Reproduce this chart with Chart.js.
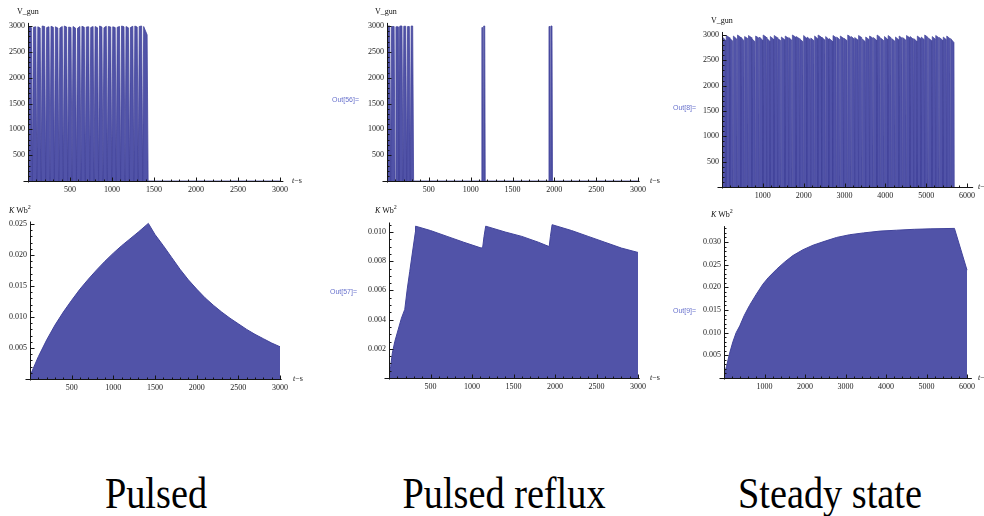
<!DOCTYPE html>
<html>
<head>
<meta charset="utf-8">
<script src="https://cdn.jsdelivr.net/npm/chart.js@4"></script>
<style>
  html, body { margin:0; padding:0; background:#fff; }
  body { position:relative; width:984px; height:516px; overflow:hidden; }
  .lbl { position:absolute; font-family:"Liberation Serif", serif; font-size:8px; line-height:8px; color:#111; white-space:nowrap; }
  .lbl sup { font-size:6px; vertical-align:4px; line-height:0; }
  .out { position:absolute; font-family:"Liberation Sans", sans-serif; font-size:7px; line-height:7px; color:rgb(105,115,205); white-space:nowrap; }
  .cap { position:absolute; width:400px; text-align:center; font-family:"Liberation Serif", serif; font-size:44px; line-height:44px; color:#000; transform:scaleX(0.87); transform-origin:center; white-space:nowrap; }
</style>
</head>
<body>
<script>
// ---------------- DATA ----------------
// Tick labels
const vTicks = [500, 1000, 1500, 2000, 2500, 3000];
const t3000Ticks = [500, 1000, 1500, 2000, 2500, 3000];
const t6000Ticks = [1000, 2000, 3000, 4000, 5000, 6000];
const pulsedKTicks = [0.005, 0.010, 0.015, 0.020, 0.025];
const refluxKTicks = [0.002, 0.004, 0.006, 0.008, 0.010];
const steadyKTicks = [0.005, 0.010, 0.015, 0.020, 0.025, 0.030];

// Pulsed: V_gun tooth boundaries (s) and tooth plateau values (V)
const pulsedTroughs = [0, 52, 105, 157, 210, 262, 314, 367, 420, 472, 524, 577, 630, 682, 735, 787, 840, 892, 944, 997, 1050, 1102, 1155, 1207, 1260, 1312, 1365, 1430];
const pulsedPeakStart = [2990, 2975, 2985, 3000, 2970, 2995, 2985, 2960, 3000, 2980, 2990, 2955, 2995, 2980, 2970, 2990, 3000, 2965, 2990, 2985, 2975, 3000, 2990, 2970, 3000, 2990, 2990];
const pulsedPeakEnd   = [2970, 2985, 2960, 2990, 2985, 2975, 2960, 2990, 2980, 2970, 2960, 2990, 2975, 2985, 2990, 2965, 2980, 2995, 2980, 2970, 2990, 2985, 2965, 2995, 2980, 3000, 2830];

// Pulsed reflux: three bursts
const refluxBurst1 = [0, 44, 96, 143, 190, 235, 278, 318];
const refluxPeaks1 = [3000, 2990, 2985, 3000, 2995, 2990, 3000];
const refluxBurst2 = [1128, 1150, 1174];
const refluxPeaks2 = [2970, 3000];
const refluxBurst3 = [1930, 1953, 1978];
const refluxPeaks3 = [2990, 3000];

// Steady state
const steadyTroughs = [0, 95, 190, 270, 370, 460, 545, 640, 730, 815,
  910, 1000, 1090, 1175, 1270, 1360, 1445, 1540, 1630, 1715,
  1810, 1900, 1990, 2075, 2170, 2260, 2345, 2440, 2530, 2615,
  2710, 2800, 2890, 2975, 3070, 3160, 3245, 3340, 3430, 3515,
  3610, 3700, 3790, 3875, 3970, 4060, 4145, 4240, 4330, 4415,
  4510, 4600, 4690, 4775, 4870, 4960, 5045, 5140, 5230, 5315,
  5410, 5500, 5590, 5690];
const steadyPeakStart = [2960,2990,2930,2980,3000,2950,2970,2990,2920,2980,
  2960,3000,2940,2970,2990,2930,2960,2980,2950,3000,
  2970,2920,2990,2960,2940,2980,3000,2950,2970,2930,
  2990,2960,2980,2940,3000,2970,2950,2990,2920,2960,
  2980,2950,3000,2940,2970,2990,2930,2960,2980,2950,
  2990,2970,2930,2980,2960,3000,2940,2970,2990,2950,
  2960,2980,2930];
const steadyPeakEnd = [2900,2950,2880,2920,2960,2890,2930,2950,2870,2940,
  2900,2960,2880,2920,2950,2890,2910,2940,2900,2960,
  2930,2870,2940,2910,2890,2930,2960,2900,2920,2880,
  2950,2910,2940,2890,2960,2920,2900,2950,2870,2910,
  2940,2900,2960,2890,2920,2950,2880,2910,2940,2900,
  2950,2920,2880,2930,2910,2960,2890,2920,2950,2900,
  2910,2930,2850];

// K Wb^2 curves
const pulsedKT = [0, 100, 200, 300, 400, 500, 600, 700, 800, 900, 1000, 1100, 1200, 1300, 1420, 1500, 1600, 1700, 1800, 1900, 2000, 2100, 2200, 2300, 2400, 2500, 2600, 2700, 2800, 2900, 3000];
const pulsedKW = [0.0005, 0.0036, 0.0063, 0.0087, 0.0108, 0.0127, 0.0145, 0.0161, 0.0176, 0.0190, 0.0203, 0.0215, 0.0226, 0.0237, 0.0251, 0.0233, 0.0215, 0.0196, 0.0177, 0.0160, 0.0145, 0.0131, 0.0119, 0.0108, 0.0098, 0.0089, 0.0080, 0.0072, 0.0065, 0.0058, 0.0052];

const refluxKT = [0, 20, 40, 70, 110, 150, 190, 220, 250, 290, 318, 320, 500, 700, 900, 1112, 1130, 1145, 1165, 1400, 1600, 1800, 1930, 1945, 1965, 2200, 2400, 2600, 2800, 3000];
const refluxKW = [0, 0.0008, 0.0017, 0.0025, 0.0033, 0.0041, 0.0047, 0.0061, 0.0073, 0.0089, 0.0100, 0.0104, 0.0101, 0.0097, 0.0093, 0.0089, 0.0090, 0.0097, 0.0104, 0.0100, 0.0097, 0.0093, 0.0090, 0.0097, 0.0105, 0.0101, 0.0097, 0.0093, 0.0089, 0.0086];

const steadyKT = [0, 60, 140, 220, 300, 390, 500, 630, 800, 960, 1100, 1300, 1500, 1700, 1950, 2200, 2500, 2780, 3100, 3440, 3850, 4260, 4700, 5090, 5690, 6000];
const steadyKW = [0.0005, 0.0025, 0.0055, 0.0080, 0.0100, 0.0115, 0.0138, 0.0160, 0.0185, 0.0207, 0.0222, 0.0240, 0.0256, 0.0270, 0.0283, 0.0293, 0.0302, 0.0310, 0.0316, 0.0320, 0.0324, 0.0326, 0.0328, 0.0329, 0.0330, 0.0238];

const captions = ["Pulsed", "Pulsed reflux", "Steady state"];

// ---------------- BUILD ----------------
function teeth(troughs, pA, pB, ramp) {
  const pts = [];
  for (let i = 0; i < troughs.length - 1; i++) {
    const a = troughs[i], b = troughs[i + 1];
    pts.push({x: a, y: 0});
    pts.push({x: a + ramp, y: pA[i]});
    pts.push({x: b - ramp, y: pB[i]});
  }
  pts.push({x: troughs[troughs.length - 1], y: 0});
  return pts;
}
const zip = (t, v) => t.map((x, i) => ({x, y: v[i]}));

const pulsedV = teeth(pulsedTroughs, pulsedPeakStart, pulsedPeakEnd, 12).concat([{x: 3000, y: 0}]);
const refluxV = teeth(refluxBurst1, refluxPeaks1, refluxPeaks1, 11)
  .concat(teeth(refluxBurst2, refluxPeaks2, refluxPeaks2, 6))
  .concat(teeth(refluxBurst3, refluxPeaks3, refluxPeaks3, 6))
  .concat([{x: 3000, y: 0}]);
const steadyV = teeth(steadyTroughs, steadyPeakStart, steadyPeakEnd, 9);

const FILL = 'rgb(81,83,168)';
const LINE = 'rgb(66,68,155)';

const mAxes = {
  id: 'mAxes',
  afterDatasetsDraw(chart, args, o) {
    const ctx = chart.ctx, xs = chart.scales.x, ys = chart.scales.y;
    const x0 = Math.round(xs.getPixelForValue(0)) + 0.5;
    const y0 = Math.round(ys.getPixelForValue(0)) + 0.5;
    ctx.save();
    ctx.strokeStyle = '#151515';
    ctx.lineWidth = 1;
    ctx.beginPath();
    ctx.moveTo(x0 - 5, y0); ctx.lineTo(xs.right, y0);
    ctx.moveTo(x0, y0 + 1); ctx.lineTo(x0, ys.top);
    const nx = Math.floor(xs.max / o.xMinor + 1e-9), rx = Math.round(o.xMajor / o.xMinor);
    for (let i = 1; i <= nx; i++) {
      const px = Math.round(xs.getPixelForValue(i * o.xMinor)) + 0.5;
      const len = (i % rx === 0) ? 4 : 2;
      ctx.moveTo(px, y0); ctx.lineTo(px, y0 - len);
    }
    const ny = Math.floor(ys.max / o.yMinor + 1e-9), ry = Math.round(o.yMajor / o.yMinor);
    for (let i = 1; i <= ny; i++) {
      const py = Math.round(ys.getPixelForValue(i * o.yMinor)) + 0.5;
      const len = (i % ry === 0) ? 4 : 2;
      ctx.moveTo(x0, py); ctx.lineTo(x0 + len, py);
    }
    ctx.stroke();
    ctx.restore();
  }
};

function makePanel(p) {
  const YW = 40, XH = 22;
  const areaW = p.xmax * p.pxX, areaH = p.ymax * p.pxY;
  const top = Math.floor(p.axisY - areaH - 10);
  const padTop = p.axisY - areaH - top;
  const H = p.axisY - top + XH;
  const left = p.axisX - YW;
  const W = Math.ceil(YW + areaW + 28);
  const padRight = W - YW - areaW;
  const c = document.createElement('canvas');
  c.width = W; c.height = H;
  c.style.cssText = `position:absolute;left:${left}px;top:${top}px;width:${W}px;height:${H}px;`;
  document.body.appendChild(c);
  const font = {family: '"Liberation Serif", serif', size: 8};
  new Chart(c, {
    type: 'line',
    data: { datasets: [{
      data: p.data, fill: 'origin', backgroundColor: FILL, borderColor: LINE,
      borderWidth: p.bw, pointRadius: 0, tension: 0
    }]},
    options: {
      responsive: false, animation: false, devicePixelRatio: 1,
      layout: { padding: {left: 0, top: padTop, right: padRight, bottom: 0} },
      plugins: { legend: {display: false}, tooltip: {enabled: false}, mAxes: p.ax },
      scales: {
        x: {
          type: 'linear', position: 'bottom', min: 0, max: p.xmax,
          grid: {display: false, drawTicks: false}, border: {display: false},
          ticks: { autoSkip: false, maxRotation: 0, minRotation: 0, padding: 4, color: '#222', font,
                   callback: v => String(v) },
          afterBuildTicks: s => { s.ticks = p.xTicks.map(v => ({value: v})); },
          afterFit: s => { s.height = XH; }
        },
        y: {
          type: 'linear', position: 'left', min: 0, max: p.ymax,
          grid: {display: false, drawTicks: false}, border: {display: false},
          ticks: { autoSkip: false, padding: 3, color: '#222', font,
                   callback: v => p.yfmt(v) },
          afterBuildTicks: s => { s.ticks = p.yTicks.map(v => ({value: v})); },
          afterFit: s => { s.width = YW; }
        }
      }
    },
    plugins: [mAxes]
  });
}

const intFmt = v => String(Math.round(v));
const decFmt = v => v.toFixed(3);

makePanel({ data: pulsedV, axisX: 28, axisY: 181, pxX: 252/3000, pxY: 155/3000, xmax: 3040, ymax: 3060, bw: 0.8,
  xTicks: t3000Ticks, yTicks: vTicks, yfmt: intFmt, ax: {xMajor: 500, xMinor: 100, yMajor: 500, yMinor: 100} });
makePanel({ data: refluxV, axisX: 387, axisY: 181, pxX: 251/3000, pxY: 155/3000, xmax: 3020, ymax: 3060, bw: 0.8,
  xTicks: t3000Ticks, yTicks: vTicks, yfmt: intFmt, ax: {xMajor: 500, xMinor: 100, yMajor: 500, yMinor: 100} });
makePanel({ data: steadyV, axisX: 722, axisY: 187, pxX: 245/6000, pxY: 152/3000, xmax: 6150, ymax: 3060, bw: 0.7,
  xTicks: t6000Ticks, yTicks: vTicks, yfmt: intFmt, ax: {xMajor: 1000, xMinor: 200, yMajor: 500, yMinor: 100} });
makePanel({ data: zip(pulsedKT, pulsedKW), axisX: 30, axisY: 379, pxX: 250/3000, pxY: 155/0.025, xmax: 3020, ymax: 0.0254, bw: 1,
  xTicks: t3000Ticks, yTicks: pulsedKTicks, yfmt: decFmt, ax: {xMajor: 500, xMinor: 100, yMajor: 0.005, yMinor: 0.001} });
makePanel({ data: zip(refluxKT, refluxKW), axisX: 389, axisY: 378, pxX: 249/3000, pxY: 146/0.010, xmax: 3020, ymax: 0.01065, bw: 1,
  xTicks: t3000Ticks, yTicks: refluxKTicks, yfmt: decFmt, ax: {xMajor: 500, xMinor: 100, yMajor: 0.002, yMinor: 0.0005} });
makePanel({ data: zip(steadyKT, steadyKW), axisX: 724, axisY: 378, pxX: 243/6000, pxY: 136/0.030, xmax: 6120, ymax: 0.0335, bw: 1,
  xTicks: t6000Ticks, yTicks: steadyKTicks, yfmt: decFmt, ax: {xMajor: 1000, xMinor: 200, yMajor: 0.005, yMinor: 0.001} });

// ---------------- TEXT ----------------
function addText(cls, html, left, top) {
  const d = document.createElement('div');
  d.className = cls; d.innerHTML = html;
  d.style.left = left + 'px'; d.style.top = top + 'px';
  document.body.appendChild(d);
  return d;
}
addText('lbl', 'V_gun', 17, 8);
addText('lbl', 'V_gun', 375, 8);
addText('lbl', 'V_gun', 711, 17);
const kwb = '<i>K</i> Wb<sup>2</sup>';
addText('lbl', kwb, 9, 207);
addText('lbl', kwb, 375, 207);
addText('lbl', kwb, 711, 211);
const ts = '<i>t</i>\u2212s';
addText('lbl', ts, 292, 177);
addText('lbl', ts, 650, 177);
addText('lbl', ts, 978, 183);
addText('lbl', ts, 293, 375);
addText('lbl', ts, 650, 374);
addText('lbl', ts, 978, 374);
addText('out', 'Out[56]=', 332, 96);
addText('out', 'Out[8]=', 673, 104);
addText('out', 'Out[57]=', 330, 288);
addText('out', 'Out[9]=', 673, 307);
addText('cap', captions[0], 156 - 200, 472);
addText('cap', captions[1], 504 - 200, 472);
addText('cap', captions[2], 830 - 200, 472);
</script>
</body>
</html>
